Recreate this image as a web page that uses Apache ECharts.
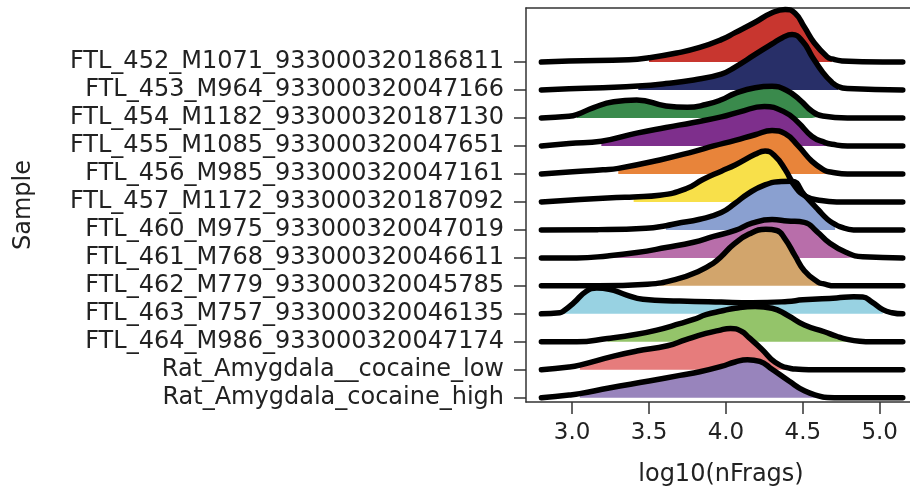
<!DOCTYPE html>
<html><head><meta charset="utf-8">
<script src="https://cdn.jsdelivr.net/npm/echarts@6/dist/echarts.min.js"></script>
<style>html,body{margin:0;padding:0;background:#fff}#c{width:910px;height:493px}</style>
</head><body><div id="c"></div>
<script>
// ---------------- data ----------------
const samples = [
  'FTL_452_M1071_933000320186811',
  'FTL_453_M964_933000320047166',
  'FTL_454_M1182_933000320187130',
  'FTL_455_M1085_933000320047651',
  'FTL_456_M985_933000320047161',
  'FTL_457_M1172_933000320187092',
  'FTL_460_M975_933000320047019',
  'FTL_461_M768_933000320046611',
  'FTL_462_M779_933000320045785',
  'FTL_463_M757_933000320046135',
  'FTL_464_M986_933000320047174',
  'Rat_Amygdala__cocaine_low',
  'Rat_Amygdala_cocaine_high'
];
const colors = ['#C8362F','#282F68','#3A8A4C','#7E2F8C','#E8843A','#F8E04A','#8AA0D0','#B86EAA','#D2A56C','#98D2E2','#94C46A','#E67C7C','#9884BC'];
const xTicks = [3.0, 3.5, 4.0, 4.5, 5.0];

// density curves: [log10(nFrags), relative density height]
const d452 = [[2.80,0],[2.98,0.04],[3.37,0.08],[3.50,0.15],[3.68,0.32],[3.83,0.52],[3.97,0.8],[4.06,1.05],[4.19,1.42],[4.30,1.76],[4.385,1.88],[4.45,1.74],[4.51,1.25],[4.575,0.68],[4.66,0.18],[4.69,0.11],[4.755,0.04],[5.02,0],[5.15,0]];
const d453 = [[2.80,0],[2.98,0.04],[3.20,0.08],[3.43,0.14],[3.61,0.23],[3.79,0.36],[3.97,0.57],[4.06,0.82],[4.19,1.27],[4.30,1.65],[4.37,1.88],[4.43,1.98],[4.50,1.73],[4.56,1.2],[4.63,0.63],[4.69,0.27],[4.73,0.12],[4.79,0.05],[5.15,0]];
const d454 = [[2.80,0],[2.98,0.06],[3.03,0.12],[3.14,0.37],[3.27,0.58],[3.42,0.64],[3.61,0.43],[3.75,0.38],[3.87,0.48],[3.97,0.65],[4.06,0.88],[4.19,1.08],[4.30,1.13],[4.39,1.0],[4.48,0.65],[4.56,0.24],[4.63,0.07],[4.79,0],[5.15,0]];
const d455 = [[2.80,0],[2.98,0.09],[3.19,0.17],[3.42,0.46],[3.61,0.66],[3.79,0.84],[3.97,1.04],[4.09,1.22],[4.25,1.41],[4.385,1.2],[4.47,0.84],[4.56,0.34],[4.645,0.12],[4.69,0.06],[4.79,0],[5.15,0]];
const d456 = [[2.80,0],[2.98,0.07],[3.20,0.15],[3.30,0.2],[3.57,0.5],[3.79,0.8],[3.92,1.0],[4.06,1.2],[4.19,1.4],[4.30,1.55],[4.385,1.44],[4.47,1.0],[4.56,0.45],[4.645,0.12],[4.68,0.07],[4.79,0],[5.15,0]];
const d457 = [[2.80,0],[3.05,0.09],[3.29,0.16],[3.40,0.18],[3.57,0.24],[3.74,0.47],[3.85,0.8],[3.97,1.1],[4.06,1.32],[4.19,1.7],[4.255,1.82],[4.32,1.63],[4.385,1.16],[4.45,0.55],[4.52,0.2],[4.62,0.05],[4.72,0],[5.15,0]];
const d460 = [[2.80,0],[3.17,0.01],[3.48,0.06],[3.61,0.15],[3.68,0.23],[3.83,0.38],[3.97,0.62],[4.06,0.95],[4.14,1.28],[4.25,1.6],[4.36,1.73],[4.43,1.74],[4.51,1.25],[4.60,0.72],[4.66,0.38],[4.71,0.2],[4.74,0.12],[4.83,0],[5.15,0]];
const d461 = [[2.80,0],[3.03,0],[3.23,0.07],[3.42,0.19],[3.61,0.37],[3.79,0.56],[3.92,0.77],[4.06,0.98],[4.17,1.24],[4.30,1.37],[4.40,1.32],[4.51,1.27],[4.59,0.95],[4.67,0.55],[4.78,0.2],[4.89,0.04],[5.15,0]];
const d462 = [[2.80,0],[3.17,0],[3.49,0.06],[3.68,0.24],[3.83,0.54],[3.92,0.82],[3.97,1.05],[4.05,1.48],[4.15,1.85],[4.26,2.02],[4.33,1.98],[4.385,1.67],[4.45,1.07],[4.51,0.54],[4.60,0.13],[4.63,0.08],[4.71,0],[5.15,0]];
const d463 = [[2.80,0],[2.92,0.04],[2.94,0.08],[3.01,0.39],[3.09,0.8],[3.16,0.92],[3.24,0.88],[3.35,0.68],[3.46,0.52],[3.70,0.46],[3.97,0.42],[4.17,0.4],[4.40,0.44],[4.50,0.5],[4.72,0.57],[4.83,0.61],[4.89,0.6],[4.95,0.42],[5.02,0.15],[5.08,0.04],[5.15,0]];
const d464 = [[2.80,0],[3.03,0],[3.23,0.12],[3.42,0.27],[3.55,0.42],[3.70,0.65],[3.79,0.8],[3.87,0.97],[3.97,1.1],[4.06,1.2],[4.19,1.26],[4.30,1.2],[4.40,0.95],[4.51,0.6],[4.64,0.36],[4.72,0.2],[4.79,0.09],[4.87,0.02],[4.95,0],[5.15,0]];
const dLow = [[2.80,0],[2.98,0.1],[3.05,0.17],[3.27,0.49],[3.42,0.67],[3.62,0.86],[3.74,1.08],[3.87,1.3],[3.95,1.4],[4.03,1.48],[4.10,1.38],[4.15,1.15],[4.235,0.73],[4.32,0.27],[4.43,0.04],[4.45,0.03],[4.58,0],[5.15,0]];
const dHigh = [[2.80,0],[2.98,0.1],[3.05,0.15],[3.24,0.35],[3.50,0.6],[3.70,0.8],[3.83,0.93],[3.97,1.12],[4.06,1.28],[4.14,1.36],[4.22,1.3],[4.30,1.02],[4.41,0.6],[4.51,0.25],[4.62,0.04],[4.64,0.02],[4.75,0],[5.15,0]];
const densities = [d452,d453,d454,d455,d456,d457,d460,d461,d462,d463,d464,dLow,dHigh];
const fillStart = [3.50,3.43,3.03,3.19,3.30,3.40,3.61,3.23,3.49,2.94,3.23,3.05,3.05];
const fillEnd   = [4.69,4.73,4.63,4.69,4.68,4.62,4.71,4.89,4.63,5.02,4.87,4.45,4.64];

// ---------------- chart ----------------
const FONT = 'DejaVu Sans';
const TXT = '#222';
const n = samples.length;
const rowVals = samples.map((s, k) => n - 1 - k);
const series = [];
samples.forEach((name, k) => {
  const base = n - 1 - k;
  const pts = densities[k].map(p => [p[0], base + p[1]]);
  const fillPts = pts.filter(p => p[0] >= fillStart[k] - 1e-9 && p[0] <= fillEnd[k] + 1e-9);
  series.push({
    type: 'line', name: name + ' fill', data: fillPts, smooth: 0.5,
    symbol: 'none', silent: true, lineStyle: {width: 0, opacity: 0},
    areaStyle: {color: colors[k], opacity: 1, origin: base}, z: 2
  });
  series.push({
    type: 'line', name: name, data: pts, smooth: 0.5,
    symbol: 'none', lineStyle: {color: '#000', width: 5.5, cap: 'round', join: 'round'}, z: 2
  });
});

const XMIN = 2.7, XMAX = 5.197;
const chart = echarts.init(document.getElementById('c'));
chart.setOption({
  animation: false,
  backgroundColor: '#fff',
  grid: {left: 526, top: 8, right: 0, bottom: 91},
  xAxis: [{
    type: 'value', min: XMIN, max: XMAX, position: 'bottom',
    axisLine: {show: true, onZero: false, lineStyle: {color: '#333', width: 1.5}},
    splitLine: {show: false},
    axisTick: {show: true, length: 12, customValues: xTicks, lineStyle: {color: '#333', width: 1.5}},
    axisLabel: {customValues: xTicks, formatter: v => Number(v).toFixed(1), fontFamily: FONT, fontSize: 23, color: TXT, margin: 20},
    name: 'log10(nFrags)', nameLocation: 'middle', nameGap: 61,
    nameTextStyle: {fontFamily: FONT, fontSize: 24, color: TXT, padding: [0, 0, 0, 6]}
  }, {
    type: 'value', min: XMIN, max: XMAX, position: 'top',
    axisLine: {show: true, onZero: false, lineStyle: {color: '#333', width: 1.5}},
    axisTick: {show: false}, axisLabel: {show: false}, splitLine: {show: false}
  }],
  yAxis: {
    type: 'value', min: -0.15, max: 13.93,
    axisLine: {show: true, onZero: false, lineStyle: {color: '#333', width: 1.5}},
    splitLine: {show: false},
    axisTick: {show: true, length: 12, customValues: rowVals, lineStyle: {color: '#333', width: 1.5}},
    axisLabel: {customValues: rowVals, formatter: v => samples[n - 1 - Math.round(v)], fontFamily: FONT, fontSize: 24, color: TXT, margin: 22},
    name: 'Sample', nameLocation: 'middle', nameGap: 490, nameRotate: 90,
    nameTextStyle: {fontFamily: FONT, fontSize: 24, color: TXT}
  },
  series: series
});
</script>
</body></html>
